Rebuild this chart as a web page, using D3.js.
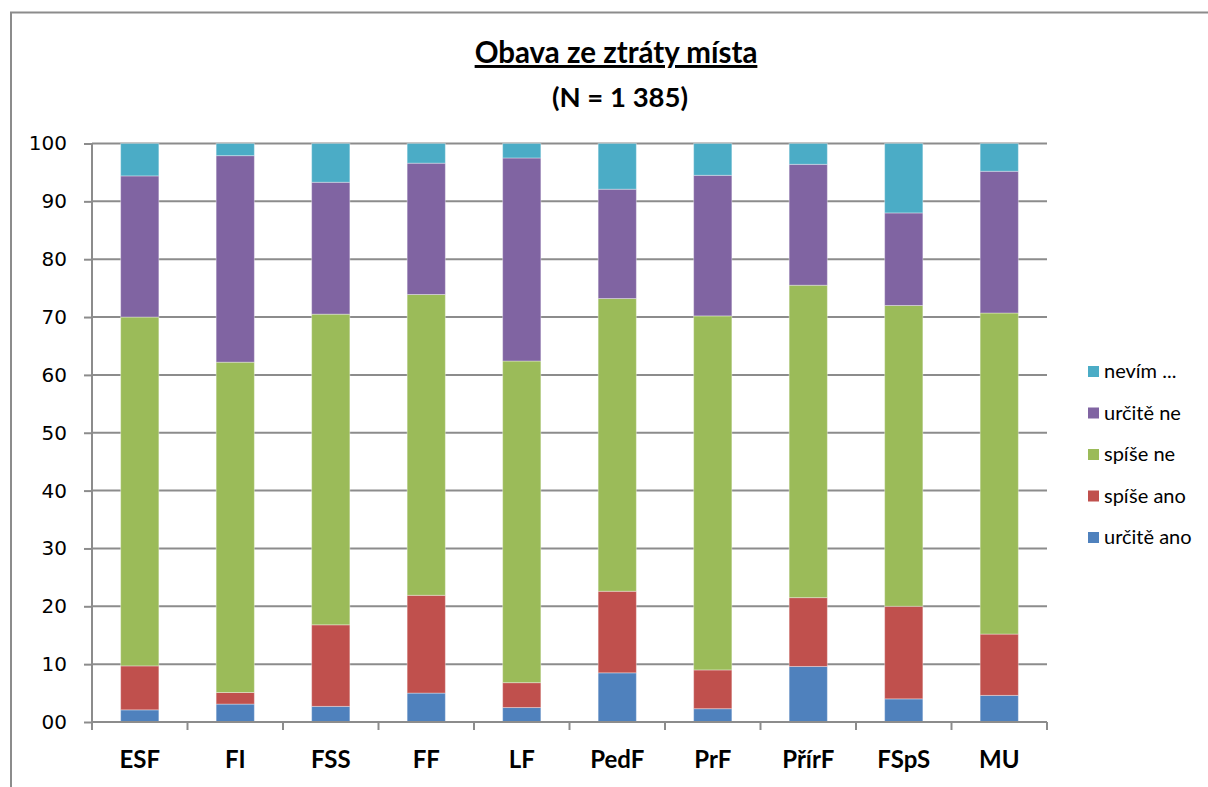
<!DOCTYPE html>
<html>
<head>
<meta charset="utf-8">
<script src="https://cdn.jsdelivr.net/npm/d3@7"></script>
<style>
  body { margin: 0; background: #fff; }
  svg { display: block; }
</style>
</head>
<body>
<svg width="1208" height="787"></svg>
<script>
// faculties on the x axis
var faculties = ["ESF", "FI", "FSS", "FF", "LF", "PedF", "PrF", "PřírF", "FSpS", "MU"];
// answer categories, bottom to top
var answers = ["určitě ano", "spíše ano", "spíše ne", "určitě ne", "nevím ..."];
// percentages per answer, one value per faculty
var urciteAno = [2.1, 3.1, 2.7, 5.0, 2.5, 8.5, 2.3, 9.6, 4.0, 4.6];
var spiseAno  = [7.6, 2.0, 14.1, 16.9, 4.3, 14.1, 6.7, 11.9, 16.0, 10.6];
var spiseNe   = [60.3, 57.1, 53.7, 52.0, 55.6, 50.6, 61.2, 54.0, 52.0, 55.5];
var urciteNe  = [24.4, 35.7, 22.8, 22.7, 35.1, 18.9, 24.3, 20.9, 16.0, 24.5];
var nevim     = [5.6, 2.1, 6.7, 3.4, 2.5, 7.9, 5.5, 3.6, 12.0, 4.8];
var yTicks = [0, 10, 20, 30, 40, 50, 60, 70, 80, 90, 100];
var colors = ["#4F81BD", "#C0504D", "#9BBB59", "#8064A2", "#4BACC6"];

var series = [urciteAno, spiseAno, spiseNe, urciteNe, nevim];
var rows = faculties.map(function(f, i) {
  var r = { fac: f };
  answers.forEach(function(a, k) { r[a] = series[k][i]; });
  return r;
});

var svg = d3.select("svg");
var margin = { left: 92, right: 161, top: 143.5, bottom: 65 };
var width = 1208 - margin.left - margin.right,
    height = 787 - margin.top - margin.bottom;

// outer chart frame (only top and left visible)
svg.append("path")
    .attr("d", "M11,787 V12.5 H1208")
    .attr("fill", "none")
    .attr("stroke", "#8c8c8c")
    .attr("stroke-width", 2);

var x = d3.scaleBand().domain(faculties).range([0, width]).paddingInner(0.6).paddingOuter(0.3);
var y = d3.scaleLinear().domain([0, 100]).range([height, 0]);

var g = svg.append("g").attr("transform", "translate(" + margin.left + "," + margin.top + ")");

// gridlines
g.append("g")
  .selectAll("line")
  .data(yTicks.slice(1))
  .enter().append("line")
    .attr("x1", 0).attr("x2", width)
    .attr("y1", function(d) { return y(d); })
    .attr("y2", function(d) { return y(d); })
    .attr("stroke", "#8c8c8c")
    .attr("stroke-width", 2);

var stack = d3.stack().keys(answers)(rows);

g.append("g")
  .selectAll("g")
  .data(stack)
  .enter().append("g")
    .attr("fill", function(d, i) { return colors[i]; })
  .selectAll("rect")
  .data(function(d) { return d; })
  .enter().append("rect")
    .attr("x", function(d) { return x(d.data.fac); })
    .attr("width", x.bandwidth())
    .attr("y", function(d) { return y(d[1]); })
    .attr("height", function(d) { return y(d[0]) - y(d[1]); })
    .attr("stroke", "rgba(255,255,255,0.35)")
    .attr("stroke-width", 1);

// y axis
var yAxis = g.append("g")
    .call(d3.axisLeft(y).tickValues(yTicks).tickSize(8).tickPadding(17)
      .tickFormat(function(d) { return d === 0 ? "00" : d; }));
yAxis.select(".domain").attr("stroke", "#8c8c8c").attr("stroke-width", 2).attr("d", "M0,0V" + height);
yAxis.selectAll(".tick line").attr("stroke", "#8c8c8c").attr("stroke-width", 2);
yAxis.selectAll(".tick text")
    .style("font-family", "'DejaVu Sans', Verdana, sans-serif")
    .style("font-size", "20px")
    .attr("fill", "#000");

// x axis with ticks between categories
var xAxis = g.append("g").attr("transform", "translate(0," + height + ")");
xAxis.append("line")
    .attr("x1", 0).attr("x2", width)
    .attr("stroke", "#8c8c8c").attr("stroke-width", 2);
var step = x.step();
xAxis.selectAll(".sep")
  .data(d3.range(faculties.length + 1))
  .enter().append("line")
    .attr("class", "sep")
    .attr("x1", function(i) { return x(faculties[0]) - (step - x.bandwidth()) / 2 + i * step; })
    .attr("x2", function(i) { return x(faculties[0]) - (step - x.bandwidth()) / 2 + i * step; })
    .attr("y1", 0).attr("y2", 8)
    .attr("stroke", "#8c8c8c").attr("stroke-width", 2);
xAxis.selectAll(".lab")
  .data(faculties)
  .enter().append("text")
    .attr("x", function(d) { return x(d) + x.bandwidth() / 2; })
    .attr("y", 46)
    .attr("text-anchor", "middle")
    .style("font-family", "Lato, 'Open Sans', sans-serif")
    .style("font-weight", "bold")
    .style("font-size", "24px")
    .text(function(d) { return d; });

// title
svg.append("text")
    .attr("x", 616).attr("y", 63)
    .attr("text-anchor", "middle")
    .style("font-family", "Lato, 'Open Sans', sans-serif")
    .style("font-weight", "bold")
    .style("font-size", "29.5px")
    .style("text-decoration", "underline")
    .text("Obava ze ztráty místa");
svg.append("text")
    .attr("x", 620).attr("y", 107)
    .attr("text-anchor", "middle")
    .style("font-family", "Lato, 'Open Sans', sans-serif")
    .style("font-weight", "bold")
    .style("font-size", "27.5px")
    .text("(N = 1 385)");

// legend, top item is last series
var legend = svg.append("g").attr("transform", "translate(1088,364)");
var legItems = answers.slice().reverse();
legItems.forEach(function(a, i) {
  var row = legend.append("g").attr("transform", "translate(0," + (i * 41.5) + ")");
  row.append("rect").attr("width", 11).attr("height", 11).attr("y", 2)
      .attr("fill", colors[answers.length - 1 - i]);
  row.append("text").attr("x", 16).attr("y", 14)
      .style("font-family", "Lato, 'Open Sans', sans-serif")
      .style("font-size", "20px")
      .text(a);
});
</script>
</body>
</html>
